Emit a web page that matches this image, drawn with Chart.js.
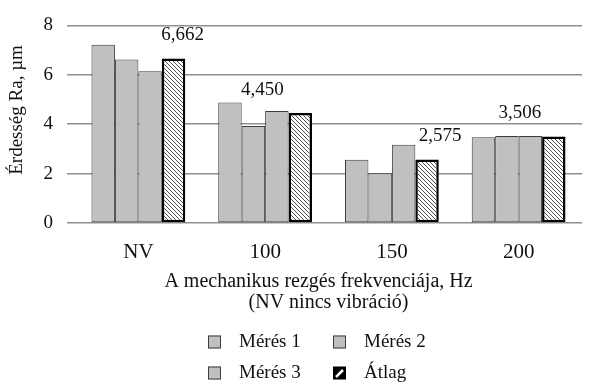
<!DOCTYPE html>
<html>
<head>
<meta charset="utf-8">
<script src="https://cdn.jsdelivr.net/npm/chart.js@4/dist/chart.umd.min.js"></script>
<style>
    body { margin: 0; background: #fff; }
    #wrap { width: 590px; height: 389px; position: relative; }
</style>
</head>
<body>
<div id="wrap"><canvas id="chart"></canvas></div>
<script>
const categories = ['NV', '100', '150', '200'];
const seriesNames = ['Mérés 1', 'Mérés 2', 'Mérés 3', 'Átlag'];
const meres1 = [7.22, 4.88, 2.56, 3.47];
const meres2 = [6.62, 3.93, 2.01, 3.52];
const meres3 = [6.14, 4.53, 3.17, 3.52];
const atlag = [6.662, 4.450, 2.575, 3.506];
const yTicks = [0, 2, 4, 6, 8];

// the average labels are not centred on their bars in the original
const labelShift = [9, -38, 13, -34];

const serif = '"Liberation Serif", "Times New Roman", serif';
const gray = '#c0c0c0';
const grayBorder = '#3c3c3c';

function makeHatch() {
    let c = document.createElement('canvas');
    c.width = 4;
    c.height = 4;
    let g = c.getContext('2d');
    g.fillStyle = '#fff';
    g.fillRect(0, 0, 4, 4);
    g.strokeStyle = '#333';
    g.lineWidth = 0.85;
    g.beginPath();
    g.moveTo(0, 0); g.lineTo(4, 4);
    g.moveTo(-1, 3); g.lineTo(1, 5);
    g.moveTo(3, -1); g.lineTo(5, 1);
    g.stroke();
    return g.createPattern(c, 'repeat');
}
const hatch = makeHatch();

function fmt(v) {
    return v.toFixed(3).replace('.', ',');
}

// values over the Átlag bars
const avgLabels = {
    id: 'avgLabels',
    afterDatasetsDraw(chart) {
        let ctx = chart.ctx;
        let meta = chart.getDatasetMeta(3);
        ctx.save();
        ctx.font = '19px ' + serif;
        ctx.fillStyle = '#111';
        ctx.textAlign = 'center';
        ctx.textBaseline = 'alphabetic';
        meta.data.forEach(function (bar, i) {
            ctx.fillText(fmt(atlag[i]), bar.x + labelShift[i], bar.y - 18);
        });
        ctx.restore();
    }
};

// 2 x 2 legend under the axis title
const gridLegend = {
    id: 'gridLegend',
    afterDraw(chart) {
        let ctx = chart.ctx;
        let cols = [208, 333];
        let rows = [342, 373];
        ctx.save();
        ctx.font = '19px ' + serif;
        ctx.textBaseline = 'middle';
        ctx.textAlign = 'left';
        chart.data.datasets.forEach(function (ds, i) {
            let x = cols[i % 2];
            let y = rows[Math.floor(i / 2)];
            if (i === 3) {
                ctx.fillStyle = '#000';
                ctx.fillRect(x, y - 6.5, 13, 13);
                ctx.strokeStyle = '#fff';
                ctx.lineWidth = 2.5;
                ctx.beginPath();
                ctx.moveTo(x + 3, y + 4);
                ctx.lineTo(x + 10, y - 3);
                ctx.stroke();
            } else {
                ctx.fillStyle = gray;
                ctx.fillRect(x, y - 6.5, 13, 13);
                ctx.strokeStyle = grayBorder;
                ctx.lineWidth = 1;
                ctx.strokeRect(x + 0.5, y - 6, 12, 12);
            }
            ctx.fillStyle = '#111';
            ctx.fillText(ds.label, x + 31, y);
        });
        ctx.restore();
    }
};

function grayBars(label, values) {
    return {
        label: label,
        data: values,
        backgroundColor: gray,
        borderColor: grayBorder,
        borderWidth: 1,
        borderSkipped: false
    };
}

new Chart(document.getElementById('chart'), {
    type: 'bar',
    data: {
        labels: categories,
        datasets: [
            grayBars(seriesNames[0], meres1),
            grayBars(seriesNames[1], meres2),
            grayBars(seriesNames[2], meres3),
            {
                label: seriesNames[3],
                data: atlag,
                backgroundColor: hatch,
                borderColor: '#000',
                borderWidth: 2.5,
                borderSkipped: false
            }
        ]
    },
    options: {
        responsive: true,
        maintainAspectRatio: false,
        animation: false,
        events: [],
        datasets: {
            bar: {categoryPercentage: 0.74, barPercentage: 1.0}
        },
        layout: {
            padding: {left: 0, right: 8, top: 14, bottom: 76}
        },
        plugins: {
            legend: {display: false},
            tooltip: {enabled: false}
        },
        scales: {
            x: {
                grid: {display: false},
                border: {display: false},
                ticks: {
                    color: '#111',
                    padding: 9,
                    font: {family: serif, size: 21}
                },
                title: {
                    display: true,
                    text: ['A mechanikus rezgés frekvenciája, Hz    ', '(NV nincs vibráció)'],
                    color: '#111',
                    font: {family: serif, size: 20, lineHeight: 1.05},
                    padding: {top: 0, bottom: 0}
                },
                afterFit: function (scale) {
                    scale.height = 90;
                }
            },
            y: {
                min: yTicks[0],
                max: yTicks[yTicks.length - 1],
                afterBuildTicks: function (scale) {
                    scale.ticks = yTicks.map(v => ({value: v}));
                },
                grid: {
                    color: '#8f8f8f',
                    lineWidth: 1.5,
                    tickLength: 8,
                    tickColor: '#8f8f8f'
                },
                border: {display: false},
                ticks: {
                    color: '#111',
                    padding: 14,
                    font: {family: serif, size: 19}
                },
                title: {
                    display: true,
                    text: '      Érdesség Ra, µm',
                    color: '#111',
                    font: {family: serif, size: 19, lineHeight: 1.2},
                    padding: {top: 6, bottom: 0}
                },
                afterFit: function (scale) {
                    scale.width = 75;
                }
            }
        }
    },
    plugins: [avgLabels, gridLegend]
});
</script>
</body>
</html>
